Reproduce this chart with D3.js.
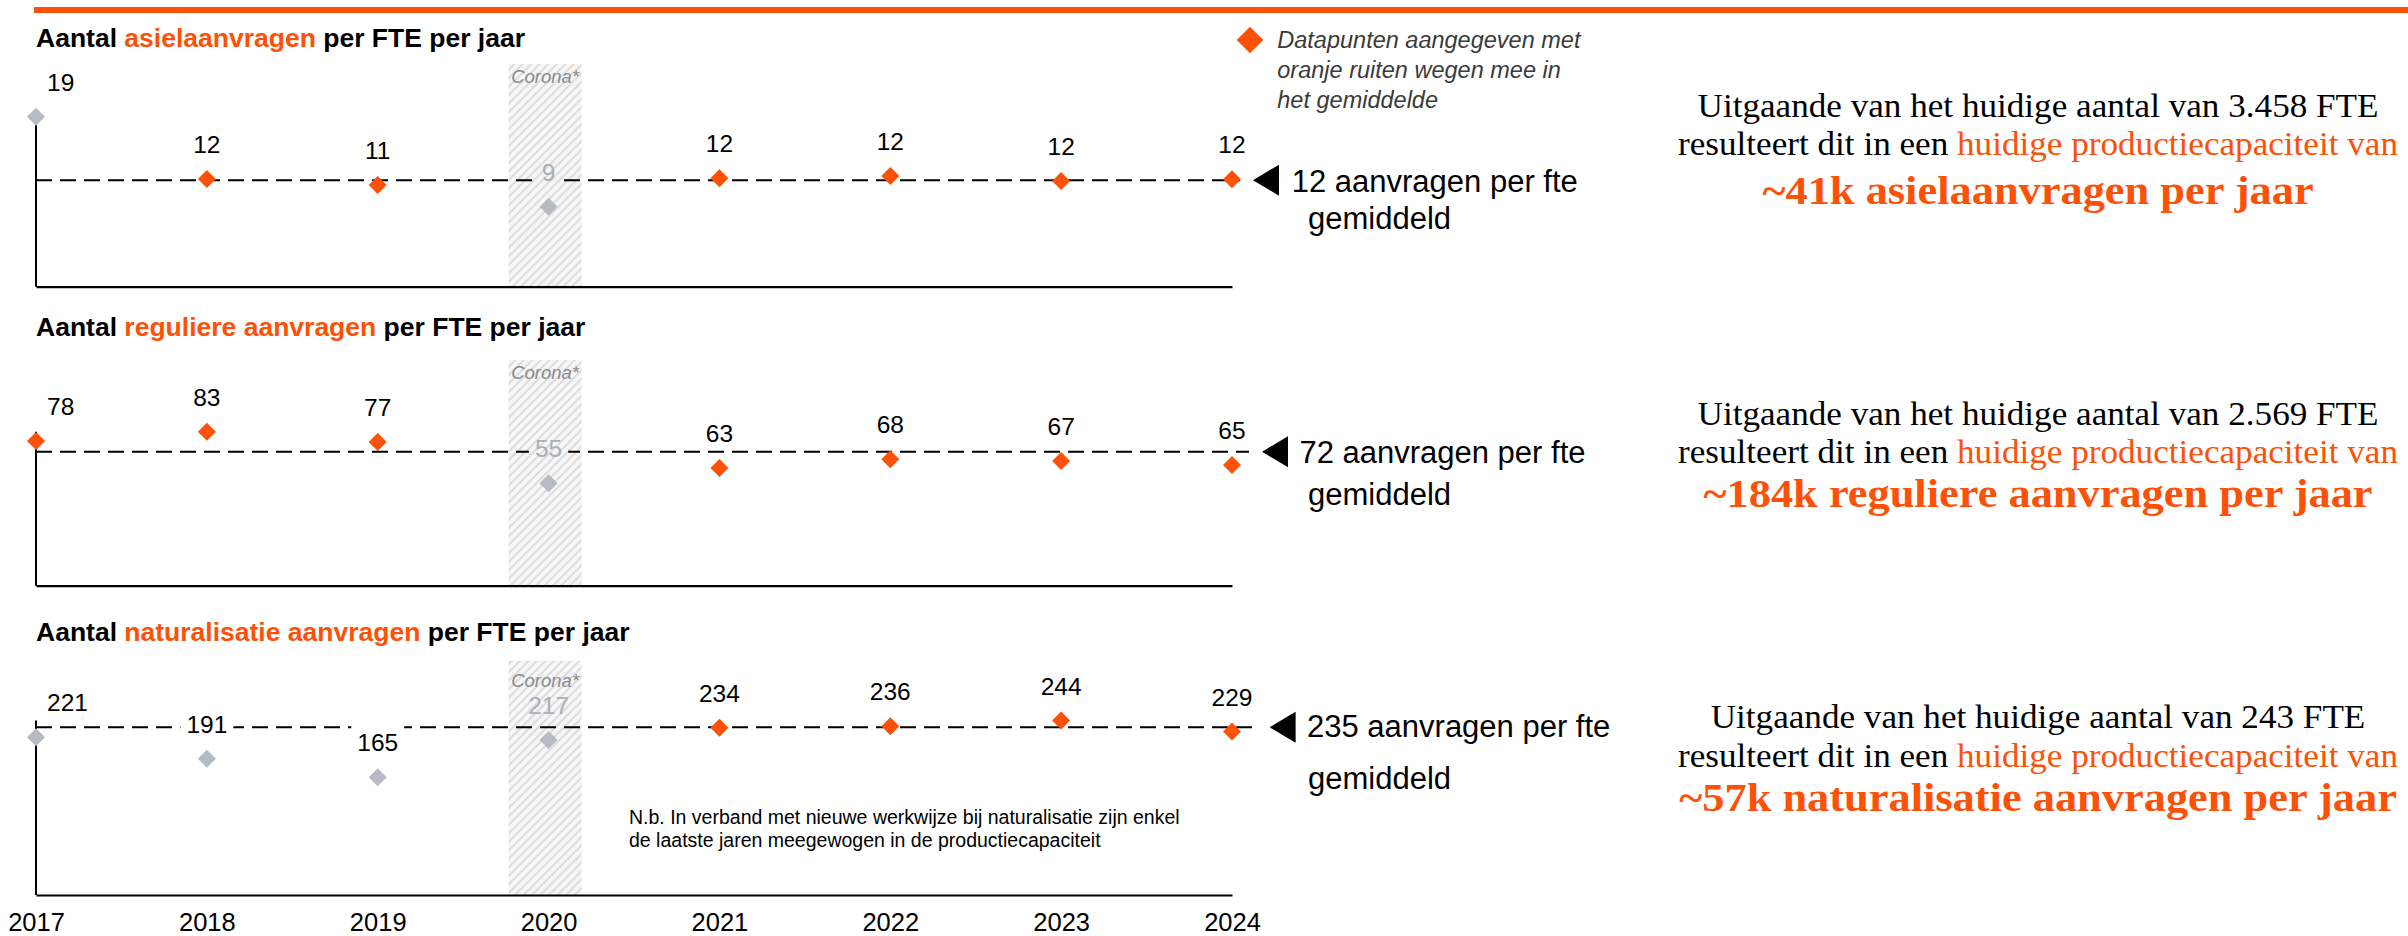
<!DOCTYPE html>
<html><head><meta charset="utf-8">
<script src="https://cdn.jsdelivr.net/npm/d3@7"></script>
<style>
html,body{margin:0;padding:0;background:#fff;}
svg{display:block;}
text{font-family:"Liberation Sans", Arial, sans-serif; white-space:pre;}
text.serif{font-family:"Liberation Serif", "Times New Roman", serif;}
</style></head><body>
<svg id="chart" width="2408" height="936"></svg>
<script>
// ---------------- DATA ----------------
const years = [2017, 2018, 2019, 2020, 2021, 2022, 2023, 2024];
const asielValues = [19.0, 12.03, 11.36, 8.94, 12.12, 12.37, 11.8, 12.0];
const regulierValues = [78.0, 83.0, 77.4, 55.2, 63.4, 68.1, 67.2, 65.1];
const naturalisatieValues = [221.0, 191.0, 165.0, 217.2, 234.4, 236.4, 244.4, 229.0];
const asielWeighted = [false, true, true, false, true, true, true, true];
const regulierWeighted = [true, true, true, false, true, true, true, true];
const naturalisatieWeighted = [false, false, false, false, true, true, true, true];
const averages = [11.9, 72.2, 235.2];
const titleHighlights = ["asielaanvragen", "reguliere aanvragen", "naturalisatie aanvragen"];
const fteCounts = ["3.458", "2.569", "243"];
const capacities = ["~41k asielaanvragen per jaar", "~184k reguliere aanvragen per jaar", "~57k naturalisatie aanvragen per jaar"];
const coronaYear = 2020;
const legendLines = ["Datapunten aangegeven met", "oranje ruiten wegen mee in", "het gemiddelde"];
const noteLines = ["N.b. In verband met nieuwe werkwijze bij naturalisatie zijn enkel", "de laatste jaren meegewogen in de productiecapaciteit"];

const seriesValues = [asielValues, regulierValues, naturalisatieValues];
const seriesWeighted = [asielWeighted, regulierWeighted, naturalisatieWeighted];

// ---------------- LAYOUT ----------------
const W = 2408, H = 936;
const ORANGE = "#fd5108", GREY = "#b6bbc3", GREY_LABEL = "#aab0b8";
const layout = [
  {titleY:46.7, axisY:286.7, yMax:20, plotH:179, bandTop:64, coronaY:83.3, tip:1253, l1x:1291.7, l1y:191.7, l2x:1308, l2y:229.3, right:[116.7,155,204]},
  {titleY:336, axisY:585.7, yMax:90, plotH:167, bandTop:360, coronaY:379.3, tip:1262, l1x:1299.4, l1y:463.3, l2x:1308, l2y:505, right:[425,463.3,507]},
  {titleY:640.7, axisY:895, yMax:250, plotH:178.4, bandTop:661, coronaY:686.7, tip:1269.6, l1x:1307, l1y:737.3, l2x:1308, l2y:789.3, right:[728.3,766.7,810.5]}
];

const svg = d3.select("#chart");
const defs = svg.append("defs");
const pat = defs.append("pattern").attr("id","hatch").attr("patternUnits","userSpaceOnUse")
  .attr("width",6).attr("height",6).attr("patternTransform","rotate(45)");
pat.append("rect").attr("width",6).attr("height",6).attr("fill","#f6f6f6");
pat.append("line").attr("x1",1).attr("y1",0).attr("x2",1).attr("y2",6).attr("stroke","#dcdcdc").attr("stroke-width",2);

const x = d3.scalePoint().domain(years).range([36, 1232]);

const diamondType = {draw(ctx, size){ const r = Math.sqrt(size/2); ctx.moveTo(0,-r); ctx.lineTo(r,0); ctx.lineTo(0,r); ctx.lineTo(-r,0); ctx.closePath(); }};
const diamond = d3.symbol().type(diamondType);

// top bar
svg.append("rect").attr("x",34).attr("y",7).attr("width",W-34).attr("height",6).attr("fill",ORANGE);

// legend
svg.append("path").attr("d", diamond.size(354)()).attr("transform","translate(1250,40)").attr("fill",ORANGE);
svg.append("g").selectAll("text").data(legendLines).join("text")
  .attr("x",1277.3).attr("y",(d,i)=>48+i*30).attr("font-size",23.5).attr("font-style","italic")
  .attr("fill","#3a3a3a").text(d=>d);

seriesValues.forEach((values, i) => {
  const L = layout[i];
  const weighted = seriesWeighted[i];
  const y = d3.scaleLinear().domain([0, L.yMax]).range([L.axisY, L.axisY - L.plotH]);
  const g = svg.append("g");
  const data = years.map((yr, j) => ({year: yr, value: values[j], w: weighted[j], idx: j}));

  // title
  const t = g.append("text").attr("x",36).attr("y",L.titleY).attr("font-size",26.5).attr("font-weight","bold").attr("fill","#000");
  t.append("tspan").text("Aantal ");
  t.append("tspan").attr("fill",ORANGE).text(titleHighlights[i]);
  t.append("tspan").text(" per FTE per jaar");

  // corona band
  const bx = x(coronaYear) - 40;
  g.append("rect").attr("x",bx).attr("y",L.bandTop).attr("width",73).attr("height",L.axisY-L.bandTop).attr("fill","url(#hatch)");
  g.append("text").attr("x",bx+36.5).attr("y",L.coronaY).attr("text-anchor","middle")
    .attr("font-size",18.5).attr("font-style","italic").attr("fill","#8c8c8c").text("Corona*");

  // x axis
  const xAxis = d3.axisBottom(x).tickSize(0).tickSizeOuter(0).tickPadding(18)
    .tickFormat(i === 2 ? d3.format("d") : () => "");
  const ax = g.append("g").attr("transform",`translate(0,${L.axisY})`).call(xAxis);
  ax.select(".domain").attr("stroke","#000").attr("stroke-width",2.2);
  ax.selectAll("text").attr("font-size",25.5).attr("fill","#000");
  ax.attr("font-family", null).attr("font-size", null);

  // y axis line (0 to max)
  g.append("line").attr("x1",x(years[0])).attr("x2",x(years[0]))
    .attr("y1",y(0)).attr("y2",y(d3.max(values))).attr("stroke","#000").attr("stroke-width",2);

  // labels (drawn first to compute mask)
  const labels = g.append("g").selectAll("text").data(data).join("text")
    .attr("x", d => d.idx === 0 ? x(d.year) + 11 : x(d.year))
    .attr("y", d => y(d.value) - 26)
    .attr("text-anchor", d => d.idx === 0 ? "start" : "middle")
    .attr("font-size", 24.5)
    .attr("fill", d => d.year === coronaYear ? GREY_LABEL : "#000")
    .text(d => d3.format(".0f")(d.value));

  // mask for mean line gaps behind labels
  const mask = defs.append("mask").attr("id","m"+i).attr("maskUnits","userSpaceOnUse")
    .attr("x",0).attr("y",0).attr("width",W).attr("height",H);
  mask.append("rect").attr("width",W).attr("height",H).attr("fill","white");
  labels.each(function(){
    const b = this.getBBox();
    mask.append("rect").attr("x",b.x-6).attr("y",b.y-4).attr("width",b.width+12).attr("height",b.height+6).attr("fill","black");
  });

  // mean line
  const my = y(averages[i]);
  g.insert("line", "g").attr("x1",x(years[0])).attr("x2",L.tip-13).attr("y1",my).attr("y2",my)
    .attr("stroke","#000").attr("stroke-width",2).attr("stroke-dasharray","16 8").attr("mask",`url(#m${i})`);

  // diamonds
  g.append("g").selectAll("path").data(data).join("path")
    .attr("d", diamond.size(162))
    .attr("transform", d => `translate(${x(d.year)},${y(d.value)})`)
    .attr("fill", d => d.w ? ORANGE : GREY);

  // average annotation
  g.append("path").attr("d",`M${L.tip},${my} L${L.tip+26},${my-15.5} L${L.tip+26},${my+15.5} Z`).attr("fill","#000");
  g.append("text").attr("x",L.l1x).attr("y",L.l1y).attr("font-size",31).attr("fill","#000")
    .text(`${Math.round(averages[i])} aanvragen per fte`);
  g.append("text").attr("x",L.l2x).attr("y",L.l2y).attr("font-size",31).attr("fill","#000").text("gemiddeld");

  // right-hand text block
  const rightLine = (yb, parts, fs, weight, sx) => {
    const gg = svg.append("g").attr("transform",`translate(2038,${yb}) scale(${sx},1)`);
    const tt = gg.append("text").attr("class","serif").attr("text-anchor","middle")
      .attr("font-size",fs).attr("font-weight",weight);
    parts.forEach(p => tt.append("tspan").attr("fill",p[1]).text(p[0]));
  };
  rightLine(L.right[0], [[`Uitgaande van het huidige aantal van ${fteCounts[i]} FTE`, "#000"]], 33, "normal", 1.065);
  rightLine(L.right[1], [["resulteert dit in een ", "#000"], ["huidige productiecapaciteit van", ORANGE]], 33, "normal", 1.065);
  rightLine(L.right[2], [[capacities[i], ORANGE]], 40, "bold", 1.11);
});

// note in panel 3
svg.append("g").selectAll("text").data(noteLines).join("text")
  .attr("x",629).attr("y",(d,i)=>824+i*23.3).attr("font-size",19.5).attr("fill","#000").text(d=>d);
</script>
</body></html>
